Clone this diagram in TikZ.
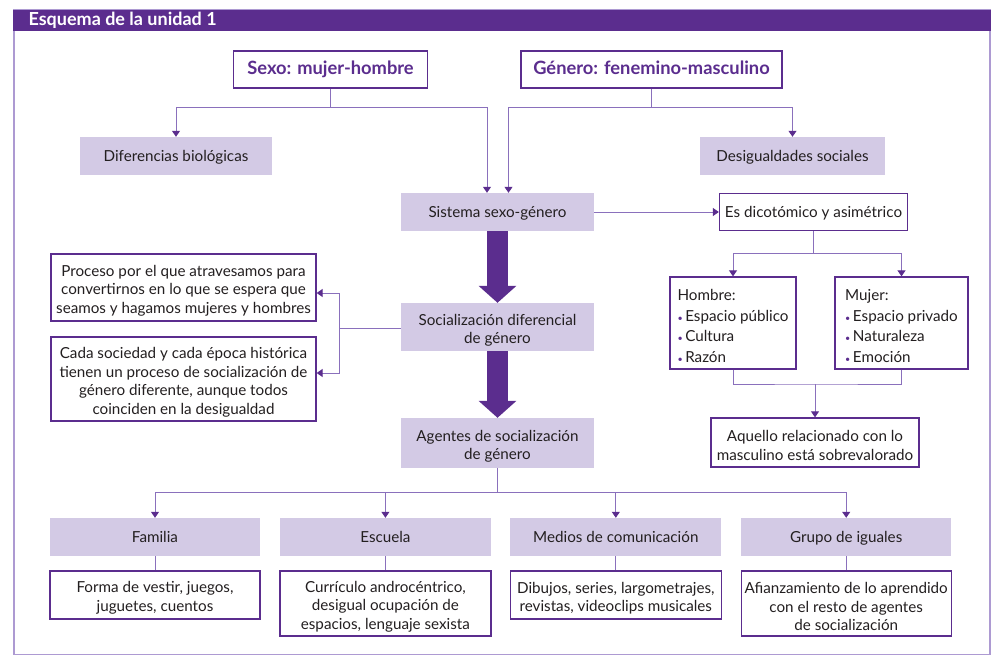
\documentclass[tikz,border=0pt]{standalone}
\usepackage{fontspec}
\setmainfont{Lato}
\usetikzlibrary{arrows.meta,positioning}
\definecolor{moradoosc}{HTML}{5B2D8E}
\definecolor{moradoclaro}{HTML}{8A70BC}
\definecolor{lila}{HTML}{D3CAE5}
\definecolor{marco}{HTML}{AD9AD2}
\definecolor{texto}{HTML}{231F20}
\newcommand{\bul}{{\color{moradoosc}\small\textbullet}\,}
\newcommand{\arriba}{\rule{0pt}{17.5pt}}

\begin{document}
\begin{tikzpicture}[x=1pt, y=-1pt, font=\fontsize{15.2}{18.5}\selectfont, >={Triangle[length=6pt,width=8pt,color=moradoosc]}]
  \tikzstyle{fillbox}=[fill=lila, text=texto, align=center, inner sep=2pt, minimum width=193pt, minimum height=38pt]
  \tikzstyle{whitebox}=[draw=moradoosc, line width=1.3pt, fill=white, text=texto, align=center, inner sep=2pt]
  \tikzstyle{oneline}=[text height=12.5pt, text depth=2pt]
  \tikzstyle{titlebox}=[whitebox, oneline, text=moradoosc, font=\fontsize{18.3}{21}\selectfont\bfseries, minimum height=37pt]
  \tikzstyle{conn}=[draw=moradoclaro, line width=1pt]
  \tikzstyle{bigarrow}=[draw=moradoosc, line width=21pt, -{Triangle[length=17pt,width=37pt]}]

  % marco y cabecera
  \useasboundingbox (0,0) rectangle (1000,663);
  \draw[marco, line width=1.4pt] (14,10) rectangle (990,654.5);
  \fill[moradoosc] (13.3,10) rectangle (990.7,31);
  \node[anchor=west, text=white, font=\fontsize{18}{20}\selectfont\bfseries] (titulo) at (25,20.5) {Esquema de la unidad 1};

  % parte superior
  \node[titlebox, minimum width=194pt] (sexo) at (330.5,69.5) {Sexo: mujer-hombre};
  \node[titlebox, minimum width=261pt] (genero) at (651.5,69.5) {Género: fenemino-masculino};
  \node[fillbox, oneline, minimum width=192pt] (bio) at (176,156) {Diferencias biológicas};
  \node[fillbox, oneline, minimum width=185pt] (desig) at (792.5,156) {Desigualdades sociales};
  \node[fillbox, oneline] (sistema) at (497.5,212) {Sistema sexo-género};
  \node[fillbox, minimum height=48pt] (social) at (497.5,327) {\arriba Socialización diferencial\\de género};
  \node[fillbox, minimum height=50pt] (agentes) at (497.5,443) {\arriba Agentes de socialización\\de género};

  % derecha
  \node[whitebox, oneline, minimum width=188pt, minimum height=37pt] (dicot) at (813.5,212) {Es dicotómico y asimétrico};
  \node[whitebox, align=left, minimum width=126pt, minimum height=92pt, font=\fontsize{15.2}{20.5}\selectfont] (hombre) at (733,323) {\arriba Hombre:\\\bul Espacio público\\\bul Cultura\\\bul Razón};
  \node[whitebox, align=left, minimum width=133pt, minimum height=92pt, font=\fontsize{15.2}{20.5}\selectfont] (mujer) at (901.5,323) {\arriba Mujer:\\\bul Espacio privado\\\bul Naturaleza\\\bul Emoción};
  \node[whitebox, minimum width=208pt, minimum height=49pt] (aquello) at (815,442.5) {\arriba Aquello relacionado con lo\\masculino está sobrevalorado};

  % izquierda
  \node[whitebox, minimum width=265pt, minimum height=67pt] (proceso) at (183.5,287.5) {\arriba Proceso por el que atravesamos para\\convertirnos en lo que se espera que\\seamos y hagamos mujeres y hombres};
  \node[whitebox, minimum width=265pt, minimum height=84pt] (cada) at (183.5,379) {\arriba Cada sociedad y cada época histórica\\tienen un proceso de socialización de\\género diferente, aunque todos\\coinciden en la desigualdad};

  % agentes
  \node[fillbox, oneline, minimum width=210pt] (fam) at (155,537) {Familia};
  \node[fillbox, oneline, minimum width=211pt, right=19.5pt of fam] (esc) {Escuela};
  \node[fillbox, oneline, minimum width=211pt, right=19pt of esc] (medios) {Medios de comunicación};
  \node[fillbox, oneline, minimum width=210pt, right=19.5pt of medios] (grupo) {Grupo de iguales};
  \node[whitebox, minimum width=210pt, minimum height=48pt, below=14pt of fam] (famt) {\arriba Forma de vestir, juegos,\\juguetes, cuentos};
  \node[whitebox, minimum width=211pt, minimum height=65pt, below=14pt of esc] (esct) {\arriba Currículo androcéntrico,\\desigual ocupación de\\espacios, lenguaje sexista};
  \node[whitebox, minimum width=211pt, minimum height=48pt, below=14pt of medios] (mediost) {\arriba Dibujos, series, largometrajes,\\revistas, videoclips musicales};
  \node[whitebox, minimum width=210pt, minimum height=65pt, below=14pt of grupo] (grupot) {\arriba Afianzamiento de lo aprendido\\con el resto de agentes\\de socialización};

  % conectores
  \coordinate (sx) at (330.5,108);
  \coordinate (gx) at (651.5,108);
  \draw[conn,->] (sexo.south) -- (sx) -| (bio.north);
  \draw[conn,->] (sx) -| ([xshift=-10.5pt]sistema.north);
  \draw[conn,->] (genero.south) -- (gx) -| (desig.north);
  \draw[conn,->] (gx) -| ([xshift=11pt]sistema.north);
  \path (sistema) edge[conn,->] (dicot);

  \draw[conn] (dicot.south) -- ++(0,22) coordinate (dx);
  \draw[conn,->] (dx) -| (hombre.north);
  \draw[conn,->] (dx) -| (mujer.north);
  \coordinate (hm) at (815,384);
  \draw[conn] (hombre.south) |- (hm) -| (mujer.south);
  \draw[conn,->] (hm) -- (aquello.north);

  \draw[bigarrow] (sistema.south) -- (social.north);
  \draw[bigarrow] (social.south) -- (agentes.north);

  \draw[conn] ([yshift=-1pt]social.west) -- ++(-61,0) coordinate (sl);
  \draw[conn,->] (sl) |- ([yshift=-5.5pt]proceso.east);
  \draw[conn,->] (sl) |- ([yshift=6pt]cada.east);

  \draw[conn] (agentes.south) -- ++(0,24) coordinate (ax);
  \draw[conn,->] (ax) -| (fam.north);
  \draw[conn,->] (ax) -| (esc.north);
  \draw[conn,->] (ax) -| (medios.north);
  \draw[conn,->] (ax) -| (grupo.north);
  \path
  (fam) edge[conn] (famt)
  (esc) edge[conn] (esct)
  (medios) edge[conn] (mediost)
  (grupo) edge[conn] (grupot);
\end{tikzpicture}
\end{document}
